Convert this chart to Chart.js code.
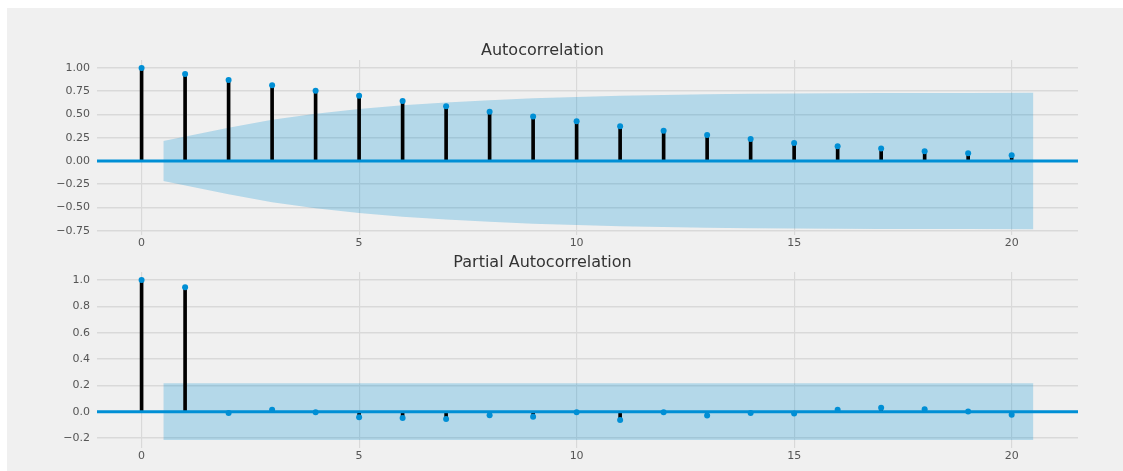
<!DOCTYPE html>
<html>
<head>
<meta charset="utf-8">
<script src="https://cdn.jsdelivr.net/npm/chart.js@4.4.1/dist/chart.umd.min.js"></script>
<style>
  html, body { margin: 0; padding: 0; background: #fff; }
  #frame { position: absolute; left: 7px; top: 8px; width: 1116px; height: 463px; background: #f0f0f0; }
  #acfChart { position: absolute; left: 0; top: 0; }
  #pacfChart { position: absolute; left: 0; top: 247px; }
</style>
</head>
<body>
<div id="frame">
  <canvas id="acfChart" width="1116" height="247"></canvas>
  <canvas id="pacfChart" width="1116" height="210"></canvas>
</div>
<script>
/* Data START */
var lags = [0, 1, 2, 3, 4, 5, 6, 7, 8, 9, 10, 11, 12, 13, 14, 15, 16, 17, 18, 19, 20];
var acfValues = [1.0, 0.935, 0.871, 0.814, 0.756, 0.702, 0.645, 0.588, 0.530, 0.477, 0.427,
                 0.373, 0.326, 0.280, 0.236, 0.193, 0.158, 0.133, 0.104, 0.082, 0.061];
var pacfValues = [1.0, 0.945, -0.010, 0.015, -0.004, -0.043, -0.048, -0.055, -0.028, -0.038, -0.005,
                  -0.063, -0.004, -0.030, -0.010, -0.013, 0.015, 0.030, 0.018, 0.002, -0.023];
// confidence band, drawn around zero
var acfBandLags = [0.5, 2, 3, 4, 5, 6, 7, 8, 9, 10, 11, 12, 13, 14, 15, 16, 17, 18, 19, 20.5];
var acfBand = [0.215, 0.357, 0.444, 0.509, 0.558, 0.598, 0.629, 0.654, 0.674, 0.689,
               0.701, 0.710, 0.717, 0.722, 0.726, 0.728, 0.730, 0.731, 0.732, 0.733];
var pacfBandLags = [0.5, 20.5];
var pacfBand = [0.215, 0.215];
var xTicks = [0, 5, 10, 15, 20];
var acfTicks = [-0.75, -0.5, -0.25, 0, 0.25, 0.5, 0.75, 1.0];
var pacfTicks = [-0.2, 0, 0.2, 0.4, 0.6, 0.8, 1.0];
var xLimits = [-1.025, 21.525];
var acfLimits = [-0.7955, 1.0855];
var pacfLimits = [-0.276, 1.061];
/* Data END */

Chart.defaults.font.family = "'DejaVu Sans', sans-serif";

function fmtTick(v, decimals) {
    return (v < 0 ? '\u2212' : '') + Math.abs(v).toFixed(decimals);
}

function buildCorrChart(canvasId, title, values, bandX, bandY, yTicks, yLimits, decimals, layout) {
    var stems = lags.map((lag, i) => ({x: lag, y: values[i]}));
    var upper = bandX.map((x, i) => ({x: x, y: bandY[i]}));
    var lower = bandX.map((x, i) => ({x: x, y: -bandY[i]}));

    return new Chart(canvasId, {
        type: 'bar',
        data: {
            datasets: [
                {type: 'line', data: upper, fill: '+1', backgroundColor: 'rgba(0,143,213,0.25)',
                 borderWidth: 0, pointRadius: 0, tension: 0, order: 5},
                {type: 'line', data: lower, fill: false, borderWidth: 0, pointRadius: 0, tension: 0, order: 5},
                {type: 'bar', data: stems, backgroundColor: '#000', barThickness: 3, order: 3},
                {type: 'line', data: [{x: xLimits[0], y: 0}, {x: xLimits[1], y: 0}],
                 borderColor: '#008fd5', borderWidth: 3, pointRadius: 0, order: 2},
                {type: 'scatter', data: stems, pointRadius: 3, backgroundColor: '#008fd5',
                 borderWidth: 0, order: 1}
            ]
        },
        options: {
            responsive: false,
            animation: false,
            events: [],
            layout: {padding: {left: 0, right: 45, top: 0, bottom: 0}},
            plugins: {
                legend: {display: false},
                tooltip: {enabled: false},
                title: {
                    display: true,
                    text: title,
                    color: '#333',
                    font: {size: 16, weight: 'normal', lineHeight: 1},
                    padding: {top: layout.titleTop, bottom: layout.titleBottom}
                }
            },
            scales: {
                x: {
                    type: 'linear',
                    min: xLimits[0],
                    max: xLimits[1],
                    offset: false,
                    grid: {color: '#d9d9d9', lineWidth: 1.2, drawTicks: false, offset: false},
                    border: {display: false},
                    ticks: {color: '#555', font: {size: 11}, padding: 2, callback: v => String(v)},
                    afterBuildTicks: scale => { scale.ticks = xTicks.map(v => ({value: v})); },
                    afterFit: scale => { scale.height = layout.xHeight; }
                },
                y: {
                    min: yLimits[0],
                    max: yLimits[1],
                    grid: {color: '#d9d9d9', lineWidth: 1.5, drawTicks: false},
                    border: {display: false},
                    ticks: {color: '#555', font: {size: 11}, padding: 7, callback: v => fmtTick(v, decimals)},
                    afterBuildTicks: scale => { scale.ticks = yTicks.map(v => ({value: v})); },
                    afterFit: scale => { scale.width = 90; }
                }
            }
        }
    });
}

buildCorrChart('acfChart', 'Autocorrelation', acfValues, acfBandLags, acfBand, acfTicks, acfLimits, 2,
    {titleTop: 35, titleBottom: 1, xHeight: 20});
buildCorrChart('pacfChart', 'Partial Autocorrelation', pacfValues, pacfBandLags, pacfBand, pacfTicks, pacfLimits, 1,
    {titleTop: 0, titleBottom: 1, xHeight: 17});
</script>
</body>
</html>
